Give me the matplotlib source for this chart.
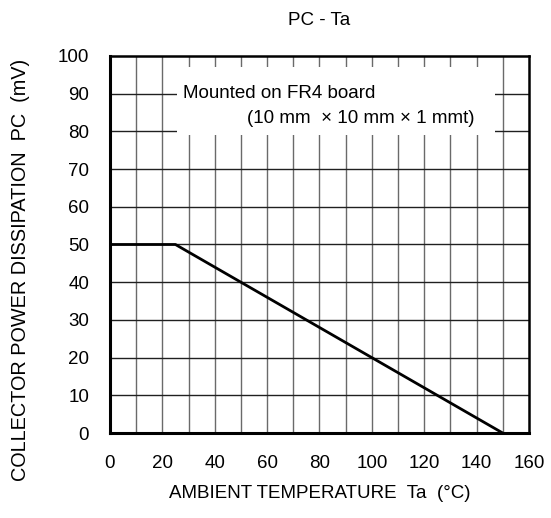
"""PC - Ta derating curve (collector power dissipation vs ambient temperature)."""

import matplotlib

matplotlib.use("Agg")
import matplotlib.pyplot as plt
from matplotlib.patches import Rectangle
import numpy as np

plt.rcParams["font.family"] = ["Liberation Sans", "DejaVu Sans"]

TEMP_C = [0, 25, 150]
POWER_MV = [50, 50, 0]

X_TICKS = np.arange(0, 161, 20)
Y_TICKS = np.arange(0, 101, 10)

fig = plt.figure(figsize=(5.51, 5.18), dpi=100)
ax = fig.add_axes([0.1996, 0.164, 0.7604, 0.728])

ax.set_xlim(0, 160)
ax.set_ylim(0, 100)

# grid: every 10 in both directions
for xv in np.arange(10, 160, 10):
    ax.axvline(xv, color="#6a6a6a", linewidth=1.0, zorder=1)
for yv in np.arange(10, 100, 10):
    ax.axhline(yv, color="#202020", linewidth=1.0, zorder=1)

# white note box over the grid
ax.add_patch(Rectangle((25.6, 79), 121.4, 18.2, facecolor="white",
                       edgecolor="none", zorder=2))
ax.text(28, 90.0, "Mounted on FR4 board", fontsize=13.5, va="center",
        ha="left", zorder=3)
ax.text(52.5, 83.4, "(10 mm  \u00d7 10 mm \u00d7 1 mmt)", fontsize=13.5,
        va="center", ha="left", zorder=3)

ax.plot(TEMP_C, POWER_MV, color="black", linewidth=2.0, zorder=4,
        solid_capstyle="butt")

ax.set_xticks(X_TICKS)
ax.set_yticks(Y_TICKS)
ax.tick_params(length=0, labelsize=13.5)
ax.tick_params(axis="x", pad=16)
ax.tick_params(axis="y", pad=15)

for side, lw in (("left", 2.2), ("bottom", 2.2), ("top", 1.8), ("right", 1.8)):
    ax.spines[side].set_linewidth(lw)
    ax.spines[side].set_zorder(5)

ax.set_xlabel("AMBIENT TEMPERATURE  Ta  (\u00b0C)", fontsize=13.5, labelpad=9)
ax.set_ylabel("COLLECTOR POWER DISSIPATION  PC  (mV)", fontsize=14.3)
ax.yaxis.set_label_coords(-0.19, 0.432)
ax.set_title("PC - Ta", fontsize=13.5, pad=22)

fig.savefig("out.png", dpi=100)
